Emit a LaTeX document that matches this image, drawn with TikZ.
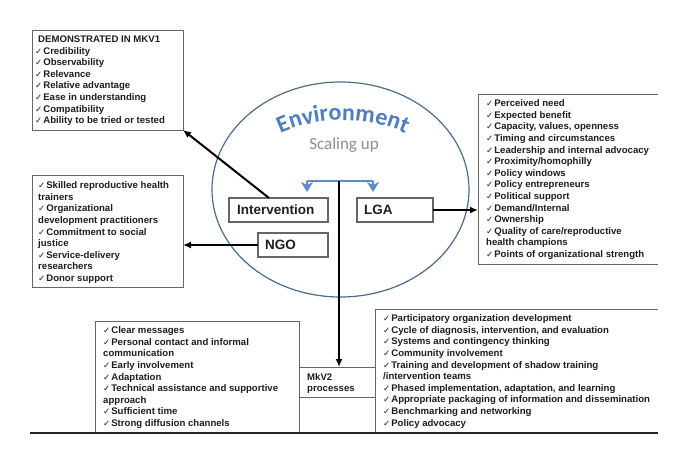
\documentclass[tikz,border=0pt]{standalone}
\usepackage{fontspec}
\setmainfont{Liberation Sans}
\newfontfamily\ckfont{DejaVu Sans}
\newfontfamily\calfont{Carlito}
\usetikzlibrary{arrows.meta,decorations.text,shapes.geometric}
\definecolor{txtdark}{HTML}{1E1E1E}
\definecolor{boxgray}{HTML}{666666}
\definecolor{ellblue}{HTML}{4A6C8E}
\definecolor{envblue}{HTML}{4F7FC0}
\definecolor{tblue}{HTML}{5B8DCB}
\definecolor{scalegray}{HTML}{8E8E8E}
\newcommand{\ck}{{\ckfont\mdseries\fontsize{8.5}{8.5}\selectfont ✓}\hspace{1pt}}
\begin{document}
\begin{tikzpicture}[x=1pt,y=-1pt,
  frame/.style={draw=boxgray, line width=1pt, inner sep=0pt, outer sep=0pt, anchor=north west},
  openline/.style={draw=boxgray, line width=1pt},
  listtext/.style={font=\bfseries\fontsize{9.6}{11.6}\selectfont, text=txtdark, align=left, inner sep=0pt, anchor=north west},
  actor/.style={draw=boxgray, line width=1.2pt, fill=white, font=\bfseries\fontsize{13.5}{14}\selectfont, text=txtdark, align=left, inner ysep=0pt, minimum height=24pt, anchor=north west, outer sep=0pt},
  bigarrow/.style={draw=black, line width=2pt, -{Latex[length=8pt,width=7pt]}},
  blueline/.style={draw=tblue, line width=2.2pt},
  bluetip/.style={draw=tblue, line width=2.2pt, -{Stealth[length=10pt,width=12pt,inset=3pt]}}
]
\useasboundingbox (0,0) rectangle (685,450);
\fill[white] (0,0) rectangle (685,450);

% environment ellipse
\node[draw=ellblue, line width=1.2pt, ellipse, minimum width=257pt, minimum height=215pt, inner sep=0pt] (env) at (340.5,189.5) {};

% arched title
\path[decorate, decoration={text along path, text align=center,
  text={|\calfont\bfseries\fontsize{24}{24}\selectfont\color{envblue}|Environment}}]
  (279,134) .. controls (318,115.5) and (368,115.5) .. (407,134);
\node[font=\calfont\fontsize{17}{17}\selectfont, text=scalegray, anchor=base, inner sep=0pt] (scal) at (344,149) {Scaling up};

% frames
\node[frame, minimum width=151pt, minimum height=100pt] (fA) at (32,30) {};
\node[frame, minimum width=151pt, minimum height=112pt] (fB) at (32,175) {};
\node[frame, draw=none, minimum width=180pt, minimum height=170pt] (fC) at (478,94) {};
\draw[openline] (fC.north east) -- (fC.north west) -- (fC.south west) -- (fC.south east);
\node[frame, draw=none, minimum width=204pt, minimum height=111pt] (fD) at (95,321) {};
\draw[openline] (fD.south west) -- (fD.north west) -- (fD.north east) -- (fD.south east);
\node[frame, draw=none, minimum width=283pt, minimum height=123pt] (fE) at (375,309) {};
\draw[openline] (fE.south west) -- (fE.north west) -- (fE.north east);
\node[frame, draw=none, minimum width=76pt, minimum height=30pt] (mkv) at (299,367) {};
\draw[openline] (mkv.north west) -- (mkv.north east);
\draw[openline] (mkv.south west) -- (mkv.south east);
\draw[line width=2pt, black!85] (30,433) -- (658,433);

% list texts
\node[listtext] (tA) at (35,35.5) {\hspace*{3pt}DEMONSTRATED IN MKV1\\
\ck Credibility\\
\ck Observability\\
\ck Relevance\\
\ck Relative advantage\\
\ck Ease in understanding\\
\ck Compatibility\\
\ck Ability to be tried or tested};

\node[listtext] (tB) at (38,181.5) {\ck Skilled reproductive health\\
trainers\\
\ck Organizational\\
development practitioners\\
\ck Commitment to social\\
justice\\
\ck Service-delivery\\
researchers\\
\ck Donor support};

\node[listtext] (tC) at (486,99.5) {\ck Perceived need\\
\ck Expected benefit\\
\ck Capacity, values, openness\\
\ck Timing and circumstances\\
\ck Leadership and internal advocacy\\
\ck Proximity/homophilly\\
\ck Policy windows\\
\ck Policy entrepreneurs\\
\ck Political support\\
\ck Demand/Internal\\
\ck Ownership\\
\ck Quality of care/reproductive\\
health champions\\
\ck Points of organizational strength};

\node[listtext] (tD) at (103,326.5) {\ck Clear messages\\
\ck Personal contact and informal\\
communication\\
\ck Early involvement\\
\ck Adaptation\\
\ck Technical assistance and supportive\\
approach\\
\ck Sufficient time\\
\ck Strong diffusion channels};

\node[listtext] (tE) at (383,314.5) {\ck Participatory organization development\\
\ck Cycle of diagnosis, intervention, and evaluation\\
\ck Systems and contingency thinking\\
\ck Community involvement\\
\ck Training and development of shadow training\\
/intervention teams\\
\ck Phased implementation, adaptation, and learning\\
\ck Appropriate packaging of information and dissemination\\
\ck Benchmarking and networking\\
\ck Policy advocacy};

\node[listtext, font=\bfseries\fontsize{9.6}{11}\selectfont] (tM) at (307,373.5) {MkV2\\processes};

% actors
\node[actor, text width=83pt, inner xsep=8pt] (interv) at (229,198) {Intervention};
\node[actor, text width=56pt, inner xsep=7pt] (ngo) at (258,233) {NGO};
\node[actor, text width=62pt, inner xsep=7pt] (lga) at (357,198) {LGA};

% blue T
\coordinate (tl) at (307,181);
\coordinate (tr) at (373,181);
\coordinate (tm) at (339,181);
\coordinate (tlb) at (307,192);
\coordinate (trb) at (373,192);
\draw[blueline] (tl) -- (tr);
\draw[bluetip] (tl) -- (tlb);
\draw[bluetip] (tr) -- (trb);

% connectors
\draw[bigarrow] ([xshift=-9.5pt]interv.north) -- (fA.south east);
\draw[bigarrow] (ngo.west) -- (ngo.west -| fB.east);
\draw[bigarrow] (lga.east) -- (lga.east -| fC.west);
\draw[bigarrow] (tm) -- (tm |- mkv.north);
\end{tikzpicture}
\end{document}
